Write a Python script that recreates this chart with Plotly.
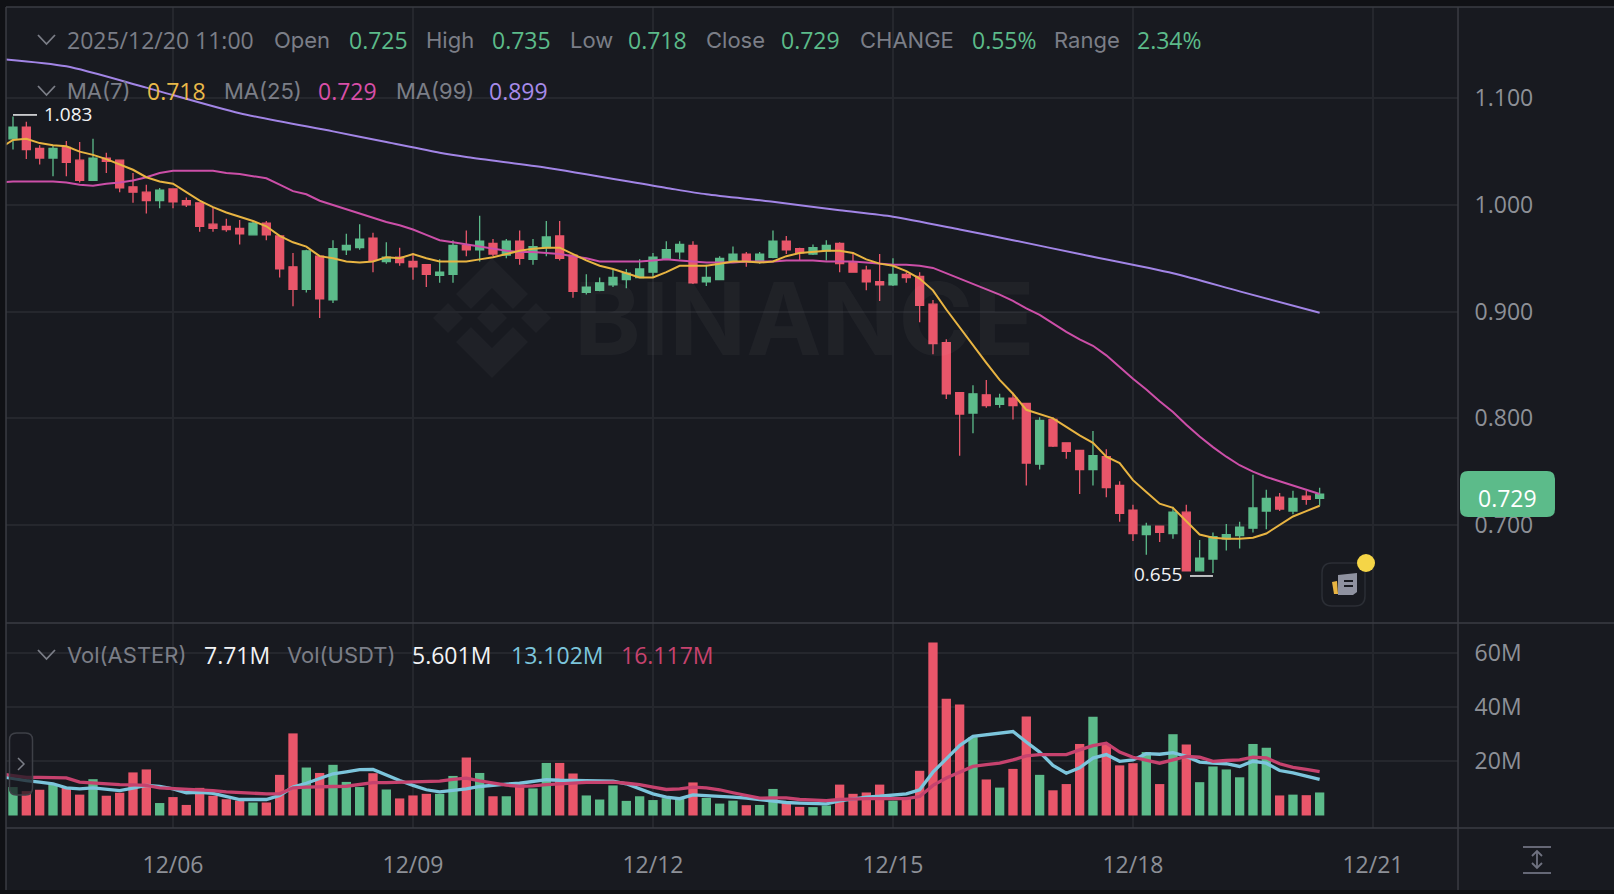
import pandas as pd
import plotly.graph_objects as go

W, H = 1614, 894

# ── Data ─────────────────────────────────────────────────────
open_ = [
    1.062, 1.073, 1.053, 1.044, 1.054, 1.042, 1.023, 1.044, 1.042, 1.017,
    1.012, 1.004, 1.015, 1.004, 1.002, .982, .980, .978, .972, .983,
    .971, .942, .921, .952, .911, .958, .960, .969, .947, .951,
    .947, .944, .934, .935, .962, .958, .964, .953, .966, .949,
    .960, .971, .953, .918, .920, .925, .930, .932, .937, .949,
    .956, .962, .928, .930, .948, .954, .948, .951, .966, .959,
    .954, .957, .964, .946, .939, .928, .925, .935, .933, .907,
    .871, .824, .805, .822, .813, .819, .814, .757, .799, .777,
    .770, .752, .764, .737, .714, .691, .699, .692, .712, .657,
    .668, .687, .690, .697, .713, .726, .713, .727, .725,
]
high = [
    1.083, 1.078, 1.056, 1.056, 1.060, 1.059, 1.062, 1.049, 1.042, 1.030,
    1.019, 1.016, 1.015, 1.007, 1.002, .998, .987, .986, .984, .985,
    .971, .955, .958, .952, .967, .973, .982, .974, .965, .960,
    .955, .944, .949, .967, .976, .990, .968, .968, .976, .968,
    .985, .985, .953, .935, .932, .939, .940, .949, .955, .966,
    .966, .966, .944, .952, .961, .956, .956, .976, .971, .960,
    .963, .967, .965, .956, .943, .954, .950, .937, .937, .911,
    .874, .824, .831, .836, .823, .824, .814, .801, .801, .777,
    .770, .788, .771, .741, .719, .702, .699, .717, .719, .686,
    .693, .701, .703, .747, .733, .730, .732, .732, .735,
]
low = [
    1.052, 1.043, 1.038, 1.027, 1.027, 1.021, 1.023, 1.030, 1.012, 1.002,
    .992, .997, .997, .998, .975, .975, .975, .963, .972, .967,
    .932, .905, .918, .894, .908, .953, .958, .937, .945, .943,
    .930, .923, .927, .927, .952, .947, .952, .950, .944, .944,
    .952, .948, .913, .916, .919, .923, .922, .932, .932, .949,
    .949, .926, .924, .930, .947, .942, .945, .950, .954, .948,
    .953, .948, .937, .937, .920, .910, .924, .927, .890, .860,
    .818, .765, .786, .810, .810, .799, .737, .752, .773, .762,
    .729, .737, .726, .703, .685, .672, .684, .687, .657, .657,
    .655, .676, .678, .693, .696, .713, .710, .719, .718,
]
close = [
    1.073, 1.052, 1.044, 1.053, 1.040, 1.023, 1.044, 1.041, 1.016, 1.012,
    1.004, 1.014, 1.003, 1.000, .980, .978, .977, .973, .983, .972,
    .940, .921, .957, .912, .959, .962, .968, .948, .951, .946,
    .942, .935, .937, .962, .958, .966, .954, .966, .950, .961,
    .970, .950, .919, .923, .927, .932, .936, .940, .951, .958,
    .963, .927, .932, .950, .954, .947, .954, .966, .958, .955,
    .960, .962, .945, .937, .928, .925, .935, .932, .906, .870,
    .823, .804, .823, .812, .819, .812, .758, .798, .774, .769,
    .752, .765, .735, .711, .692, .699, .693, .712, .657, .669,
    .689, .691, .698, .716, .725, .715, .725, .724, .729,
]
volume = [
    10.5, 9.0, 9.5, 11.4, 10.5, 7.7, 13.4, 7.3, 8.4, 15.9,
    17.0, 4.6, 6.8, 3.9, 10.2, 7.3, 6.0, 5.5, 4.8, 4.8,
    15.0, 30.3, 17.7, 15.7, 18.7, 12.4, 10.5, 15.6, 9.6, 6.3,
    7.4, 8.0, 8.0, 14.6, 21.4, 15.7, 7.1, 7.1, 11.4, 10.0,
    19.4, 19.4, 15.5, 7.4, 5.9, 11.1, 5.4, 7.1, 5.7, 6.4,
    6.4, 12.2, 6.5, 4.4, 5.5, 3.8, 3.9, 9.8, 4.7, 3.2,
    3.1, 3.7, 11.4, 8.0, 8.5, 11.4, 5.5, 6.2, 16.5, 63.8,
    43.1, 41.0, 28.9, 13.3, 10.3, 17.2, 36.5, 15.0, 9.3, 11.6,
    26.4, 36.4, 26.4, 18.5, 19.3, 23.4, 11.6, 30.0, 26.2, 12.3,
    18.1, 17.0, 14.1, 26.4, 25.0, 7.4, 7.7, 7.5, 8.5,
]

# moving averages start one candle before the first visible one
ma7 = [
    1.053,
    1.061, 1.062, 1.058, 1.056, 1.055, 1.050, 1.047, 1.043, 1.038, 1.033,
    1.026, 1.022, 1.020, 1.012, 1.004, .998, .993, .989, .985, .980,
    .971, .965, .961, .952, .950, .947, .946, .947, .951, .950,
    .954, .950, .947, .947, .947, .949, .951, .954, .957, .959,
    .960, .960, .954, .948, .943, .940, .936, .932, .932, .937,
    .943, .943, .943, .945, .947, .947, .946, .947, .952, .955,
    .956, .957, .957, .955, .949, .945, .943, .938, .931, .920,
    .902, .885, .869, .852, .836, .823, .808, .804, .800, .792,
    .784, .777, .764, .758, .742, .731, .720, .716, .703, .691,
    .688, .687, .687, .688, .692, .700, .708, .713, .718,
]
ma25 = [
    1.021,
    1.022, 1.022, 1.022, 1.022, 1.021, 1.019, 1.018, 1.020, 1.021, 1.023,
    1.026, 1.030, 1.032, 1.032, 1.032, 1.032, 1.030, 1.029, 1.027, 1.025,
    1.019, 1.013, 1.010, 1.004, 1.000, .996, .992, .988, .984, .981,
    .977, .972, .967, .965, .963, .961, .959, .957, .956, .956,
    .955, .954, .952, .950, .947, .947, .947, .947, .948, .949,
    .948, .947, .946, .946, .946, .947, .947, .947, .948, .948,
    .948, .947, .947, .947, .946, .945, .944, .944, .943, .941,
    .936, .931, .926, .921, .916, .910, .903, .897, .889, .881,
    .874, .868, .859, .848, .837, .827, .816, .806, .794, .783,
    .773, .764, .756, .750, .745, .741, .737, .733, .729,
]
ma99_idx = [-1, 4, 10, 17, 24, 28, 32, 34, 40, 49, 52, 57, 62, 66, 71, 75, 80, 87, 92, 98]
ma99 = [1.137, 1.130, 1.110, 1.086, 1.069, 1.059, 1.049, 1.045, 1.035, 1.016,
        1.010, 1.003, .995, .989, .977, .967, .954, .936, .919, .899]

vol_ma_blue = [
    14.4,
    13.5, 12.9, 12.3, 11.7, 10.2, 9.8, 10.2, 9.7, 9.2, 10.1,
    11.1, 10.7, 9.8, 8.4, 8.5, 8.2, 7.1, 5.9, 5.9, 5.9,
    7.4, 10.5, 11.9, 13.5, 15.4, 16.1, 16.9, 17.0, 14.8, 12.9,
    11.1, 9.5, 8.7, 9.1, 9.8, 10.7, 11.3, 11.6, 11.9, 12.7,
    13.2, 13.0, 13.0, 12.9, 12.8, 12.7, 11.7, 9.8, 8.0, 6.8,
    6.2, 7.6, 7.4, 7.1, 6.8, 6.4, 5.8, 5.3, 4.8, 4.6,
    4.3, 4.3, 5.4, 6.2, 6.8, 7.1, 7.4, 8.0, 9.5, 16.0,
    20.9, 25.8, 29.2, 29.9, 30.6, 31.0, 27.1, 23.4, 18.5, 15.6,
    17.6, 21.2, 22.5, 20.0, 20.5, 22.8, 22.6, 23.2, 21.8, 19.7,
    19.3, 19.1, 18.1, 20.0, 19.3, 16.6, 15.7, 14.5, 13.3,
]
vol_ma_red = [
    15.4,
    14.8, 14.1, 14.1, 14.1, 13.9, 12.3, 11.9, 11.7, 11.4, 11.3,
    11.1, 10.2, 10.0, 9.7, 9.5, 9.2, 8.7, 8.4, 8.1, 8.0,
    8.0, 10.2, 10.5, 10.7, 10.7, 10.8, 11.4, 12.1, 12.1, 12.2,
    12.3, 12.4, 12.7, 13.3, 13.8, 12.8, 11.9, 11.2, 10.8, 10.9,
    11.4, 11.7, 12.1, 12.2, 12.2, 12.3, 11.9, 11.4, 10.5, 9.6,
    9.8, 10.5, 10.2, 9.5, 8.4, 7.4, 6.4, 6.5, 6.5, 5.9,
    5.7, 5.5, 5.9, 6.2, 6.2, 6.2, 6.2, 6.2, 7.0, 11.1,
    13.8, 16.0, 18.1, 18.8, 19.3, 20.5, 22.0, 22.5, 22.5, 22.5,
    24.2, 25.8, 26.7, 23.4, 21.5, 20.3, 19.3, 20.5, 21.8, 21.5,
    20.0, 20.3, 20.5, 21.5, 21.3, 19.1, 17.8, 17.0, 16.2,
]
assert all(len(a) == 99 for a in (open_, high, low, close, volume))
assert all(len(a) == 100 for a in (ma7, ma25, vol_ma_blue, vol_ma_red))
assert len(ma99_idx) == len(ma99)

price_ticks = [0.7, 0.8, 0.9, 1.0, 1.1]
price_tick_text = ["0.700", "0.800", "0.900", "1.000", "1.100"]
vol_ticks = [20, 40, 60]
vol_tick_text = ["20M", "40M", "60M"]

header_row = [
    ("2025/12/20 11:00", "grey", 67), ("Open", "grey", 274), ("0.725", "green", 349),
    ("High", "grey", 426), ("0.735", "green", 492), ("Low", "grey", 570),
    ("0.718", "green", 628), ("Close", "grey", 706), ("0.729", "green", 781),
    ("CHANGE", "grey", 860), ("0.55%", "green", 972), ("Range", "grey", 1054),
    ("2.34%", "green", 1137),
]
ma_row = [
    ("MA(7)", "grey", 67), ("0.718", "#e9b949", 147), ("MA(25)", "grey", 224),
    ("0.729", "#d94fa8", 318), ("MA(99)", "grey", 396), ("0.899", "#a78bea", 489),
]
vol_row = [
    ("Vol(ASTER)", "grey", 67), ("7.71M", "#f2f3f5", 204), ("Vol(USDT)", "grey", 287),
    ("5.601M", "#f2f3f5", 412), ("13.102M", "#7cc5dc", 511), ("16.117M", "#c6426e", 621),
]

# ── Style ────────────────────────────────────────────────────
BG = "#181a20"
OUTER = "#101115"
GRID = "#25272d"
EDGE = "#3a3c43"
GREEN = "#5cbb8a"
RED = "#e9566a"
GREY = "#7b7e87"
AXIS_TEXT = "#8d9097"
FONT = "Inter, 'Noto Sans', sans-serif"
NUM_FONT = "'Open Sans', Inter, sans-serif"  # tabular digits, like the exchange font

# plot area in window pixels
LEFT, RIGHT, TOP, SPLIT, BOTTOM = 6, 1458, 7, 623, 828


def fx(x):
    return x / W


def fy(y):
    return 1 - y / H


def candle_time(i):
    # first candle sits at x=13, candles are 4h apart and 13.33px wide
    return pd.Timestamp("2025-12-04") + pd.Timedelta(hours=4 * i)


def px_to_time(x):
    return candle_time((x - 13) / 13.333)


def path(points, closed=True):
    d = "M " + " L ".join(f"{fx(x):.5f},{fy(y):.5f}" for x, y in points)
    return d + (" Z" if closed else "")


def round_rect(x0, y0, x1, y1, r):
    c = lambda x, y: f"{fx(x):.5f},{fy(y):.5f}"
    return (
        f"M {c(x0 + r, y0)} L {c(x1 - r, y0)} Q {c(x1, y0)} {c(x1, y0 + r)} "
        f"L {c(x1, y1 - r)} Q {c(x1, y1)} {c(x1 - r, y1)} "
        f"L {c(x0 + r, y1)} Q {c(x0, y1)} {c(x0, y1 - r)} "
        f"L {c(x0, y0 + r)} Q {c(x0, y0)} {c(x0 + r, y0)} Z"
    )


dates = [candle_time(i) for i in range(len(close))]
ma_dates = [candle_time(i) for i in range(-1, len(close))]
ma99_dates = [candle_time(i) for i in ma99_idx]
bar_colors = [GREEN if c >= o else RED for o, c in zip(open_, close)]

fig = go.Figure()

fig.add_trace(go.Candlestick(
    x=dates, open=open_, high=high, low=low, close=close,
    increasing=dict(line=dict(color=GREEN, width=1.3), fillcolor=GREEN),
    decreasing=dict(line=dict(color=RED, width=1.3), fillcolor=RED),
    whiskerwidth=0, xaxis="x", yaxis="y", showlegend=False,
))
fig.add_trace(go.Scatter(
    x=ma99_dates, y=ma99, mode="lines",
    line=dict(color="#a285e6", width=2, shape="spline", smoothing=0.7),
    xaxis="x", yaxis="y", showlegend=False, hoverinfo="skip",
))
for ys, color in [(ma25, "#cc4fa8"), (ma7, "#e8b442")]:
    fig.add_trace(go.Scatter(
        x=ma_dates, y=ys, mode="lines", line=dict(color=color, width=2),
        xaxis="x", yaxis="y", showlegend=False, hoverinfo="skip",
    ))

fig.add_trace(go.Bar(
    x=dates, y=volume, marker=dict(color=bar_colors, line_width=0),
    xaxis="x", yaxis="y2", showlegend=False,
))
for ys, color in [(vol_ma_blue, "#7cc5dc"), (vol_ma_red, "#c6426e")]:
    fig.add_trace(go.Scatter(
        x=ma_dates, y=ys, mode="lines", line=dict(color=color, width=3.3),
        xaxis="x", yaxis="y2", showlegend=False, hoverinfo="skip",
    ))

shapes = []
annotations = []


def add_text(text, x, y, color, size=22, anchor="left", family=FONT):
    annotations.append(dict(
        text=text, xref="paper", yref="paper", x=fx(x), y=fy(y),
        xanchor=anchor, yanchor="middle", showarrow=False,
        font=dict(family=family, size=size, color=color),
    ))


def add_stroke(points, color, width=1.5, layer="above"):
    shapes.append(dict(
        type="path", xref="paper", yref="paper", path=path(points, closed=False),
        line=dict(color=color, width=width), layer=layer,
    ))


def add_fill(points, color, layer="above"):
    shapes.append(dict(
        type="path", xref="paper", yref="paper", path=path(points),
        fillcolor=color, line=dict(width=0), layer=layer,
    ))


# header rows
for row, y in [(header_row, 40), (ma_row, 91), (vol_row, 655)]:
    for text, color, x in row:
        color = {"grey": GREY, "green": GREEN}.get(color, color)
        if text[0].isdigit():
            add_text(text, x - 2, y, color, size=23, family=NUM_FONT)
        else:
            add_text(text, x - 2, y, color)
    add_stroke([(38, y - 5), (46.5, y + 4), (55, y - 5)], GREY, 1.8)

# outer frame and panel dividers
for x0, y0, x1, y1 in [(0, 0, W, TOP), (0, 0, LEFT, H), (0, 890, W, H)]:
    shapes.append(dict(type="rect", xref="paper", yref="paper", x0=fx(x0), x1=fx(x1),
                       y0=fy(y0), y1=fy(y1), fillcolor=OUTER, line_width=0, layer="below"))
for pts in [
    [(LEFT, TOP), (W, TOP)],
    [(LEFT, SPLIT), (W, SPLIT)],
    [(LEFT, BOTTOM), (W, BOTTOM)],
    [(LEFT, TOP), (LEFT, 890)],
    [(RIGHT, TOP), (RIGHT, 890)],
]:
    add_stroke(pts, EDGE, 1.5)

# high / low markers, drawn a touch outside the wick ends
shapes.append(dict(type="line", xref="x", yref="y", xsizemode="pixel", xanchor=dates[0],
                   ysizemode="pixel", yanchor=high[0],
                   x0=0, x1=24, y0=1.5, y1=1.5, line=dict(color="#f2f3f5", width=1.5)))
annotations.append(dict(text="1.083", xref="x", yref="y", x=dates[0], y=high[0], xshift=29, yshift=2.5,
                        xanchor="left", yanchor="middle", showarrow=False,
                        font=dict(family=NUM_FONT, size=19, color="#f2f3f5")))
shapes.append(dict(type="line", xref="x", yref="y", xsizemode="pixel", xanchor=dates[90],
                   ysizemode="pixel", yanchor=low[90],
                   x0=-23, x1=0, y0=-3, y1=-3, line=dict(color="#f2f3f5", width=1.5)))
annotations.append(dict(text="0.655", xref="x", yref="y", x=dates[90], y=low[90], xshift=-29, yshift=-1.5,
                        xanchor="right", yanchor="middle", showarrow=False,
                        font=dict(family=NUM_FONT, size=19, color="#f2f3f5")))

# last price tag
shapes.append(dict(type="path", xref="paper", yref="paper", path=round_rect(1460, 471, 1555, 517, 8),
                   fillcolor=GREEN, line_width=0, layer="above"))
add_text("0.729", 1507.5, 498, "#ffffff", size=23, anchor="center", family=NUM_FONT)

# news button
shapes.append(dict(type="path", xref="paper", yref="paper", path=round_rect(1322, 563, 1365, 606, 10),
                   fillcolor=BG, line=dict(color="#2b2e35", width=1.5), layer="above"))
add_fill([(1338, 575), (1357, 573), (1357, 592), (1353, 595), (1338, 595)], "#8f92a0")
add_fill([(1332, 582), (1337, 581), (1338, 594), (1334, 594)], "#e8b442")
add_stroke([(1344, 581), (1353, 581)], BG, 2)
add_stroke([(1344, 586), (1353, 586)], BG, 2)
shapes.append(dict(type="circle", xref="paper", yref="paper", x0=fx(1357), x1=fx(1375),
                   y0=fy(572), y1=fy(554), fillcolor="#f5d547", line_width=0, layer="above"))

# collapse handle in the volume panel
shapes.append(dict(type="path", xref="paper", yref="paper", path=round_rect(9.5, 733, 32.5, 795, 7),
                   fillcolor="rgba(24,26,32,0.75)", line=dict(color="#3e4047", width=1.5), layer="above"))
add_stroke([(18, 758), (24, 764), (18, 770)], GREY, 1.5)

# scale toggle, bottom right
add_stroke([(1523, 847), (1551, 847)], "#6f7280", 1.8)
add_stroke([(1523, 873), (1551, 873)], "#6f7280", 1.8)
add_stroke([(1537, 851), (1537, 868)], "#6f7280", 1.8)
add_stroke([(1532, 856), (1537, 851), (1542, 856)], "#6f7280", 1.8)
add_stroke([(1532, 863), (1537, 868), (1542, 863)], "#6f7280", 1.8)

# watermark
LOGO = "#1f2127"
lx, ly = 492, 318
for pts in [
    [(0, -60), (36, -24), (21, -9), (0, -30), (-21, -9), (-36, -24)],
    [(0, 60), (36, 24), (21, 9), (0, 30), (-21, 9), (-36, 24)],
    [(0, -15), (15, 0), (0, 15), (-15, 0)],
    [(-44, -15), (-29, 0), (-44, 15), (-59, 0)],
    [(44, -15), (59, 0), (44, 15), (29, 0)],
]:
    add_fill([(lx + a, ly + b) for a, b in pts], LOGO, layer="below")
add_text("<b>BINANCE</b>", 572, 318, "rgba(255,255,255,0.035)", size=101)

x_range = [px_to_time(LEFT), px_to_time(RIGHT)]
price_range = [1.1 - (SPLIT - 98.3) / 1066.7, 1.1 + (98.3 - TOP) / 1066.7]
vol_range = [(815.5 - BOTTOM) / 2.71, (815.5 - SPLIT) / 2.71]

tick_font = dict(family=NUM_FONT, size=23, color=AXIS_TEXT)

fig.update_layout(
    width=W, height=H,
    margin=dict(l=0, r=0, t=0, b=0),
    paper_bgcolor=BG, plot_bgcolor=BG,
    font=dict(family=FONT, size=22, color=AXIS_TEXT),
    showlegend=False,
    bargap=0.3, boxgap=0.4, boxgroupgap=0,
    xaxis=dict(
        domain=[fx(LEFT), fx(RIGHT)], range=x_range, anchor="y2", type="date",
        rangeslider=dict(visible=False), tick0="2025-12-06", dtick=3 * 86400000,
        tickformat="%m/%d", ticks="outside", ticklen=16, tickcolor="rgba(0,0,0,0)",
        showgrid=True, gridcolor=GRID, gridwidth=1.5, zeroline=False, showline=False,
        tickfont=tick_font,
    ),
    yaxis=dict(
        domain=[fy(SPLIT), fy(TOP)], range=price_range, side="right", anchor="x",
        tickvals=price_ticks, ticktext=price_tick_text,
        ticks="outside", ticklen=11, tickcolor="rgba(0,0,0,0)",
        gridcolor=GRID, gridwidth=1.5, zeroline=False, showline=False,
        tickfont=tick_font,
    ),
    yaxis2=dict(
        domain=[fy(BOTTOM), fy(SPLIT)], range=vol_range, side="right", anchor="x",
        tickvals=vol_ticks, ticktext=vol_tick_text,
        ticks="outside", ticklen=11, tickcolor="rgba(0,0,0,0)",
        gridcolor=GRID, gridwidth=1.5, zeroline=False, showline=False,
        tickfont=tick_font,
    ),
    shapes=shapes,
    annotations=annotations,
)

fig.write_html(
    "out.html",
    config={"displayModeBar": False},
    post_script="document.body.style.margin='0';document.body.style.overflow='hidden';",
)
